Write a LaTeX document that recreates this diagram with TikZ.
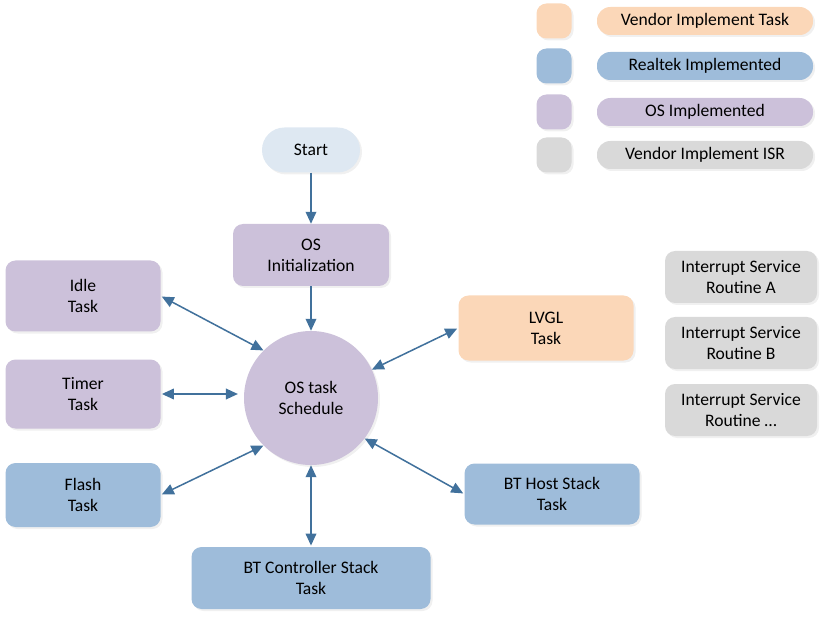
\documentclass[tikz,border=0pt]{standalone}
\usepackage{fontspec}
\setmainfont{Carlito}
\usetikzlibrary{shadows}
\usetikzlibrary{positioning}
\usetikzlibrary{arrows.meta}

\definecolor{startfill}{HTML}{DEE8F2}
\definecolor{osfill}{HTML}{CCC1DA}
\definecolor{rtkfill}{HTML}{9EBCDA}
\definecolor{vendfill}{HTML}{FBD7B8}
\definecolor{isrfill}{HTML}{D9D9D9}
\definecolor{linkcol}{HTML}{41719C}

\begin{document}
\begin{tikzpicture}[x=0.03cm, y=-0.03cm,
  box/.style={rounded corners=3mm, align=center, inner sep=0pt,
    font=\fontsize{15}{18}\selectfont,
    drop shadow={opacity=0.12, shadow xshift=0.6mm, shadow yshift=-0.6mm}},
  link/.style={draw=linkcol, line width=1.3pt, {Triangle[length=3.6mm, width=3.2mm]}-{Triangle[length=3.6mm, width=3.2mm]}},
  flow/.style={draw=linkcol, line width=1.3pt, -{Triangle[length=3.6mm, width=3.2mm]}}]

  \def\px{0.03cm};

  \useasboundingbox (0,0) rectangle (828,622);

  % legend
  \foreach \y/\c/\txt/\name in {21/vendfill/Vendor Implement Task/lgv, 66/rtkfill/Realtek Implemented/lgr,
                                112/osfill/OS Implemented/lgo, 155/isrfill/Vendor Implement ISR/lgi} {
    \node[box, fill=\c, minimum width=35*\px, minimum height=35*\px] (\name sq) at (554,\y) {};
    \node[box, fill=\c, rounded corners=4mm, minimum width=216*\px, minimum height=28*\px] (\name) at (705,\y) {\txt};
  }

  % interrupt routines
  \foreach \y/\s/\name in {277/A/isra, 343/B/isrb, 410/\dots/isrc} {
    \node[box, fill=isrfill, minimum width=152*\px, minimum height=52*\px] (\name) at (741,\y) {Interrupt Service\\Routine \s};
  }

  % main flow
  \node[box, fill=startfill, rounded corners=6.7mm, minimum width=98*\px, minimum height=45*\px] (start) at (311,150) {Start};
  \node[box, fill=osfill, minimum width=156*\px, minimum height=62*\px] (osinit) at (311,255) {OS\\Initialization};
  \node[circle, fill=osfill, align=center, inner sep=0pt, minimum size=134*\px,
    font=\fontsize{15}{18}\selectfont,
    drop shadow={opacity=0.12, shadow xshift=0.6mm, shadow yshift=-0.6mm}] (sched) at (311,398) {OS task\\Schedule};

  % tasks
  \node[box, fill=osfill, minimum width=155*\px, minimum height=71*\px] (idle) at (83,296) {Idle\\Task};
  \node[box, fill=osfill, minimum width=155*\px, minimum height=69*\px] (timer) at (83,394) {Timer\\Task};
  \node[box, fill=rtkfill, minimum width=155*\px, minimum height=64*\px] (flash) at (83,495) {Flash\\Task};
  \node[box, fill=rtkfill, minimum width=239*\px, minimum height=62*\px] (btctrl) at (311,578) {BT Controller Stack\\Task};
  \node[box, fill=rtkfill, minimum width=175*\px, minimum height=61*\px] (bthost) at (552,494) {BT Host Stack\\Task};
  \node[box, fill=vendfill, minimum width=175*\px, minimum height=65*\px] (lvgl) at (546,328) {LVGL\\Task};

  \draw[flow] (start) -- (osinit);
  \draw[flow] (osinit) -- (sched);

  \draw[link, shorten <=1pt] (idle.east) -- (sched.135);
  \draw[link, shorten <=1pt, shorten >=5pt] (timer.east) -- (timer.east -| sched.west);
  \draw[link, shorten <=1pt] (flash.east) -- (sched.225);
  \draw[link, shorten <=1pt] (btctrl) -- (sched);
  \draw[link, shorten <=1pt] (bthost.west) -- (sched.323);
  \draw[link, shorten <=1pt] (lvgl.west) -- (sched.25);

\end{tikzpicture}
\end{document}
